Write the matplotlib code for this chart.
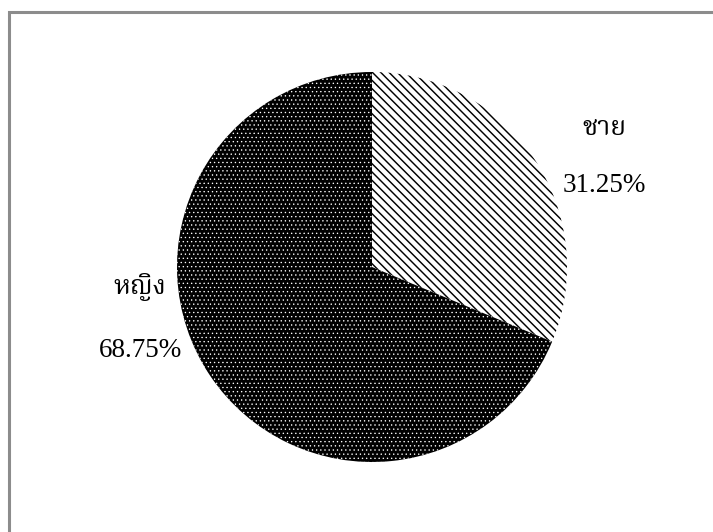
import matplotlib
matplotlib.use("Agg")
import matplotlib.pyplot as plt
from matplotlib import font_manager
from matplotlib.ft2font import FT2Font

# ข้อมูลเพศของกลุ่มตัวอย่าง
labels = ["ชาย", "หญิง"]
percents = [31.25, 68.75]
hatches = ["\\" * 4, "." * 4]


def find_thai_font():
    # หาฟอนต์ที่มีอักษรไทย (ถ้ามี)
    best = None
    for f in font_manager.fontManager.ttflist:
        try:
            cmap = FT2Font(f.fname).get_charmap()
        except Exception:
            continue
        if 0x0E0A in cmap and 0x0E0D in cmap:
            if best is None or "Serif" in f.name:
                best = f.name
    return best or "DejaVu Sans"


thai_font = find_thai_font()
plt.rcParams["hatch.linewidth"] = 1.05

W, H = 713, 532
fig = plt.figure(figsize=(W / 100, H / 100), dpi=100)
ax = fig.add_axes([0, 0, 1, 1])

# กรอบด้านซ้ายและด้านบน
ax.plot([9, 9, W], [0, H - 12, H - 12], color="#8c8c8c", lw=2.2,
        solid_joinstyle="miter")

cx, cy, r = 372, 265, 195
wedges, _ = ax.pie(percents, startangle=90, counterclock=False,
                   center=(cx, cy), radius=r, frame=True,
                   wedgeprops=dict(linewidth=0))
wedges[0].set_facecolor("white")
wedges[0].set_edgecolor("black")
wedges[0].set_hatch(hatches[0])
wedges[1].set_facecolor("black")
wedges[1].set_edgecolor("white")
wedges[1].set_hatch(hatches[1])
if hasattr(wedges[1], "set_hatch_linewidth"):
    wedges[1].set_hatch_linewidth(0.45)
ax.set_xlim(0, W)
ax.set_ylim(0, H)
ax.set_aspect("equal")
ax.axis("off")

num_font = ["Liberation Serif", thai_font]
txt_font = [thai_font, "Liberation Serif"]
# ตำแหน่ง (x, baseline) ของชื่อกลุ่มและเปอร์เซ็นต์
pos = [((604, H - 135), (604, H - 192)), ((140, H - 294), (141, H - 357))]
for lab, p, (lp, pp) in zip(labels, percents, pos):
    ax.text(*lp, lab, ha="center", va="baseline", fontsize=19, family=txt_font)
    ax.text(*pp, f"{p:.2f}%", ha="center", va="baseline", fontsize=19.5,
            family=num_font)

fig.savefig("out.png", dpi=100)
